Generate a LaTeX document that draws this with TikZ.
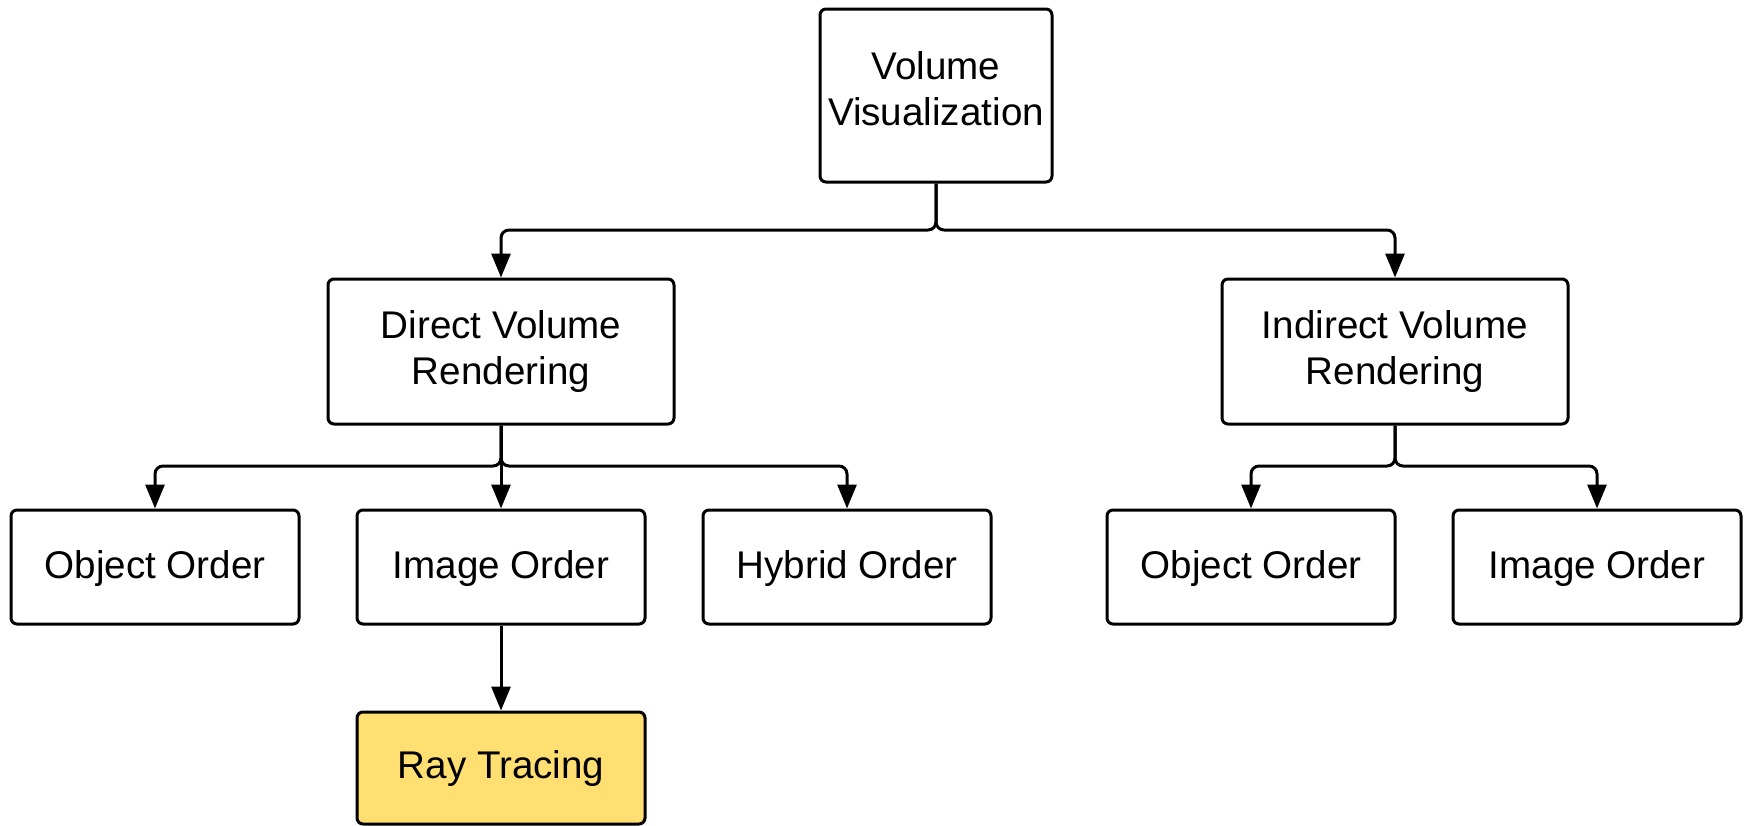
\documentclass[tikz,border=0pt]{standalone}
\usepackage{fontspec}
\setmainfont{Liberation Sans}
\usetikzlibrary{arrows.meta}
\definecolor{rayyellow}{HTML}{FFDF71}
\tikzset{
  box/.style={draw, line width=1.5pt, rounded corners=3pt, inner sep=0pt,
    align=center, font=\fontsize{19.3pt}{23pt}\selectfont,
    text height=13.8pt, text depth=2pt,
    minimum width=144pt, minimum height=57pt},
  twoline/.style={text height=36.8pt, text depth=3.5pt},
  conn/.style={line width=1.5pt, rounded corners=4pt,
    -{Triangle[length=12pt,width=9.5pt]}}
}
\begin{document}
\begin{tikzpicture}[x=0.5pt,y=-0.5pt]
\useasboundingbox (0,0) rectangle (1744,825);
\node[box, twoline, minimum width=116pt, minimum height=86.5pt, text depth=7pt] (vv) at (936,95.5) {Volume\\Visualization};
\node[box, twoline, minimum width=173pt, minimum height=72.5pt] (dvr) at (501,351.5) {Direct Volume\\Rendering};
\node[box, twoline, minimum width=173pt, minimum height=72.5pt] (ivr) at (1395,351.5) {Indirect Volume\\Rendering};
\node[box] (oo1) at (155,567) {Object Order};
\node[box] (io1) at (501,567) {Image Order};
\node[box] (ho) at (847,567) {Hybrid Order};
\node[box] (oo2) at (1251,567) {Object Order};
\node[box] (io2) at (1597,567) {Image Order};
\node[box, fill=rayyellow, minimum height=56pt, text depth=3.5pt] (ray) at (501,768) {Ray Tracing};
\coordinate (b1) at (936,230);
\coordinate (b2) at (501,466);
\coordinate (b3) at (1395,466);
\draw[conn] (vv.south) -- (b1) -| (dvr.north);
\draw[conn] (vv.south) -- (b1) -| (ivr.north);
\draw[conn] (dvr.south) -- (b2) -| (oo1.north);
\draw[conn] (dvr.south) -- (io1.north);
\draw[conn] (dvr.south) -- (b2) -| (ho.north);
\draw[conn] (ivr.south) -- (b3) -| (oo2.north);
\draw[conn] (ivr.south) -- (b3) -| (io2.north);
\draw[conn] (io1.south) -- (ray.north);
\end{tikzpicture}
\end{document}
